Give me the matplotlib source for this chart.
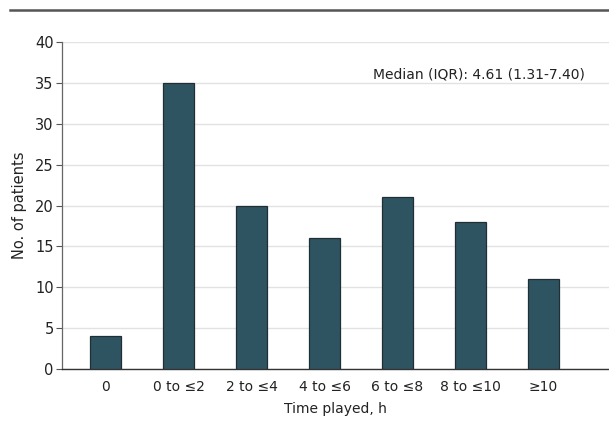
import matplotlib.pyplot as plt
from matplotlib import font_manager

categories = ["0", "0 to \u22642", "2 to \u22644", "4 to \u22646", "6 to \u22648", "8 to \u226410", "\u226510"]
patients = [4, 35, 20, 16, 21, 18, 11]
yticks = [0, 5, 10, 15, 20, 25, 30, 35, 40]

names = {f.name for f in font_manager.fontManager.ttflist}
fam = ["Liberation Sans Narrow", "DejaVu Sans"] if "Liberation Sans Narrow" in names else ["DejaVu Sans"]
plt.rcParams['font.family'] = fam

fig = plt.figure(figsize=(6.09, 4.34), dpi=100)
W, H = 609, 434
ax = fig.add_axes([62 / W, 1 - 369 / H, (609 - 62) / W, (369 - 42) / H])

x = list(range(len(categories)))
ax.bar(x, patients, width=0.42, color="#2e5461", edgecolor="#1f2f35", linewidth=0.9, zorder=3)

ax.set_xlim(-0.6, 6.9)
ax.set_ylim(0, 40)
ax.set_yticks(yticks)
ax.set_xticks(x)
ax.set_xticklabels(categories, fontsize=10, color="#222222")
ax.tick_params(axis="x", length=0, pad=8)
ax.tick_params(axis="y", length=4, width=0.8, color="#555555", labelsize=10.5, labelcolor="#222222", pad=2)
ax.grid(axis="y", color="#e2e2e2", linewidth=1, zorder=0)

for s in ["top", "right"]:
    ax.spines[s].set_visible(False)
ax.spines["left"].set_color("#666666")
ax.spines["left"].set_linewidth(0.9)
ax.spines["bottom"].set_color("#333333")
ax.spines["bottom"].set_linewidth(1.0)

ax.set_ylabel("No. of patients", fontsize=10.5, color="#222222", labelpad=6)
ax.set_xlabel("Time played, h", fontsize=10, color="#222222", labelpad=6)

ax.text(5.12, 36, "Median (IQR): 4.61 (1.31-7.40)", fontsize=10, color="#222222",
        ha="center", va="center")

# header rule (title above is cropped away in the reference)
fig.add_artist(plt.Line2D([10 / W, 1], [1 - 10 / H, 1 - 10 / H], color="#555555", linewidth=1.8))

fig.savefig("out.png", dpi=100)
